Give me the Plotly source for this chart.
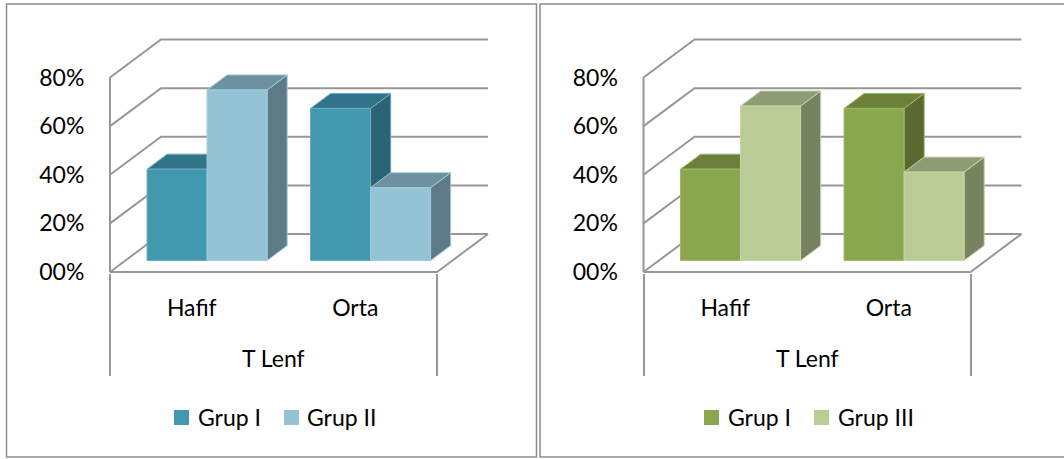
import plotly.graph_objects as go

W, H = 1064, 459

# Data
categories = ["Hafif", "Orta"]
y_ticks = [0, 20, 40, 60, 80]
y_tick_labels = ["00%", "20%", "40%", "60%", "80%"]
axis_title = "T Lenf"

grup_i_left = [37.6, 62.6]
grup_ii = [70.2, 30.0]
grup_i_right = [37.6, 62.6]
grup_iii = [63.6, 36.4]

FONT = "Lato"
FONT_SIZE = 23
GRID = "#979797"

# Scales of the oblique projection (pixels per axis unit)
PX_X = 163.5
PX_Y = 2.431
DEPTH_X = 51 / PX_X
DEPTH_Y = 38 / PX_Y
BAR_W = 60 / PX_X
T_FRONT, T_BACK = 0.30, 0.695


def project(x, v, t):
    return x + t * DEPTH_X, v + t * DEPTH_Y


def polygon(points):
    xs, ys = zip(*[project(*p) for p in points + points[:1]])
    return list(xs), list(ys)


def add_face(fig, points, fill, edge, name, axes):
    xs, ys = polygon(points)
    fig.add_trace(go.Scatter(
        x=xs, y=ys, mode="lines", fill="toself", fillcolor=fill,
        line=dict(color=edge, width=1), name=name, hoverinfo="name",
        showlegend=False, xaxis=axes[0], yaxis=axes[1]))


def add_wireframe(fig, axes):
    xs, ys = [], []
    for v in y_ticks:
        for p in [(-0.5, v, 0), (-0.5, v, 1), (1.5, v, 1)]:
            px, py = project(*p)
            xs.append(px)
            ys.append(py)
        xs.append(None)
        ys.append(None)
    # Floor front edge, floor right edge and the wall's front edge
    for seg in [[(-0.5, 0, 0), (1.5, 0, 0), (1.5, 0, 1)], [(-0.5, 0, 0), (-0.5, y_ticks[-1], 0)]]:
        for p in seg:
            px, py = project(*p)
            xs.append(px)
            ys.append(py)
        xs.append(None)
        ys.append(None)
    fig.add_trace(go.Scatter(
        x=xs, y=ys, mode="lines", line=dict(color=GRID, width=2),
        hoverinfo="skip", showlegend=False, xaxis=axes[0], yaxis=axes[1]))


def add_bar(fig, center, side, value, style, name, axes):
    x0 = center + (0 if side else -BAR_W)
    x1 = x0 + BAR_W
    front, top, right, edge = style
    add_face(fig, [(x1, 0, T_FRONT), (x1, 0, T_BACK), (x1, value, T_BACK), (x1, value, T_FRONT)],
             right, edge, name, axes)
    add_face(fig, [(x0, value, T_FRONT), (x1, value, T_FRONT), (x1, value, T_BACK), (x0, value, T_BACK)],
             top, edge, name, axes)
    add_face(fig, [(x0, 0, T_FRONT), (x1, 0, T_FRONT), (x1, value, T_FRONT), (x0, value, T_FRONT)],
             front, edge, name, axes)


panels = [
    dict(axes=("x", "y"), dx=0, series=[
        ("Grup I", grup_i_left, ("#4198AF", "#31748A", "#2A6475", "#6AACBF")),
        ("Grup II", grup_ii, ("#93C3D5", "#6C919F", "#5C7B86", "#A3CCDB")),
    ], legend=[(174, 196), (284, 305)], border=(6.5, 536.5)),
    dict(axes=("x2", "y2"), dx=533.5, series=[
        ("Grup I", grup_i_right, ("#8AA64E", "#6B8039", "#59692F", "#9DB866")),
        ("Grup III", grup_iii, ("#BACC95", "#8D9C73", "#768260", "#C6D6A8")),
    ], legend=[(704, 726), (814, 836)], border=(540, 1070)),
]

fig = go.Figure()
shapes, annotations = [], []
layout_axes = {}

for i, panel in enumerate(panels):
    axes, dx = panel["axes"], panel["dx"]
    add_wireframe(fig, axes)
    for c, center in enumerate(range(len(categories))):
        for s, (name, values, style) in enumerate(panel["series"]):
            add_bar(fig, center, s, values[c], style, name, axes)

    # Plot area spans the projected box plus a small pad for line widths
    left, right, top, bottom = 107 + dx, 492 + dx, 36, 273
    suffix = "" if i == 0 else "2"
    x_center0 = 191.75 + dx
    layout_axes["xaxis" + suffix] = dict(
        domain=[left / W, right / W],
        range=[(left - x_center0) / PX_X, (right - x_center0) / PX_X],
        anchor="y" + suffix, showgrid=False, zeroline=False, showline=False,
        automargin=False,
        tickmode="array", tickvals=list(range(len(categories))), ticktext=categories,
        ticks="outside", ticklen=14, tickcolor="rgba(0,0,0,0)",
        tickfont=dict(family=FONT, size=FONT_SIZE, color="#000000"),
        minor=dict(tickmode="array", tickvals=[-0.5, 1.5], ticks="outside",
                   ticklen=102, tickcolor=GRID, tickwidth=1.5),
    )
    layout_axes["yaxis" + suffix] = dict(
        domain=[1 - bottom / H, 1 - top / H],
        range=[(272 - bottom) / PX_Y, (272 - top) / PX_Y],
        anchor="x" + suffix, showgrid=False, zeroline=False, showline=False,
        automargin=False,
        tickmode="array", tickvals=y_ticks, ticktext=y_tick_labels,
        ticks="outside", ticklen=17, tickcolor="rgba(0,0,0,0)",
        tickfont=dict(family=FONT, size=FONT_SIZE, color="#000000"),
    )

    annotations.append(dict(
        text=axis_title, x=0.5, y=0, xref="x" + suffix, yref="y" + suffix,
        yshift=-86, showarrow=False, xanchor="center", yanchor="middle",
        font=dict(family=FONT, size=FONT_SIZE, color="#000000")))

    # Chart frame
    x0, x1 = panel["border"]
    shapes.append(dict(type="rect", xref="paper", yref="paper",
                       x0=x0 / W, x1=x1 / W, y0=1 - 457 / H, y1=1 - 4 / H,
                       line=dict(color="#8C8C8C", width=1.5)))

    # Key below the plot
    for (sx, tx), (name, _, style) in zip(panel["legend"], panel["series"]):
        shapes.append(dict(type="rect", xref="paper", yref="paper",
                           x0=sx / W, x1=(sx + 15) / W, y0=1 - 425 / H, y1=1 - 410 / H,
                           fillcolor=style[0], line=dict(width=0)))
        annotations.append(dict(
            text=name, x=tx / W, y=1 - 417 / H, xref="paper", yref="paper",
            showarrow=False, xanchor="left", yanchor="middle",
            font=dict(family=FONT, size=FONT_SIZE, color="#000000")))

fig.update_layout(
    width=W, height=H, margin=dict(l=0, r=0, t=0, b=0, pad=0, autoexpand=False),
    paper_bgcolor="#FFFFFF", plot_bgcolor="rgba(0,0,0,0)",
    showlegend=False, shapes=shapes, annotations=annotations, **layout_axes,
)

fig.write_html("out.html")
